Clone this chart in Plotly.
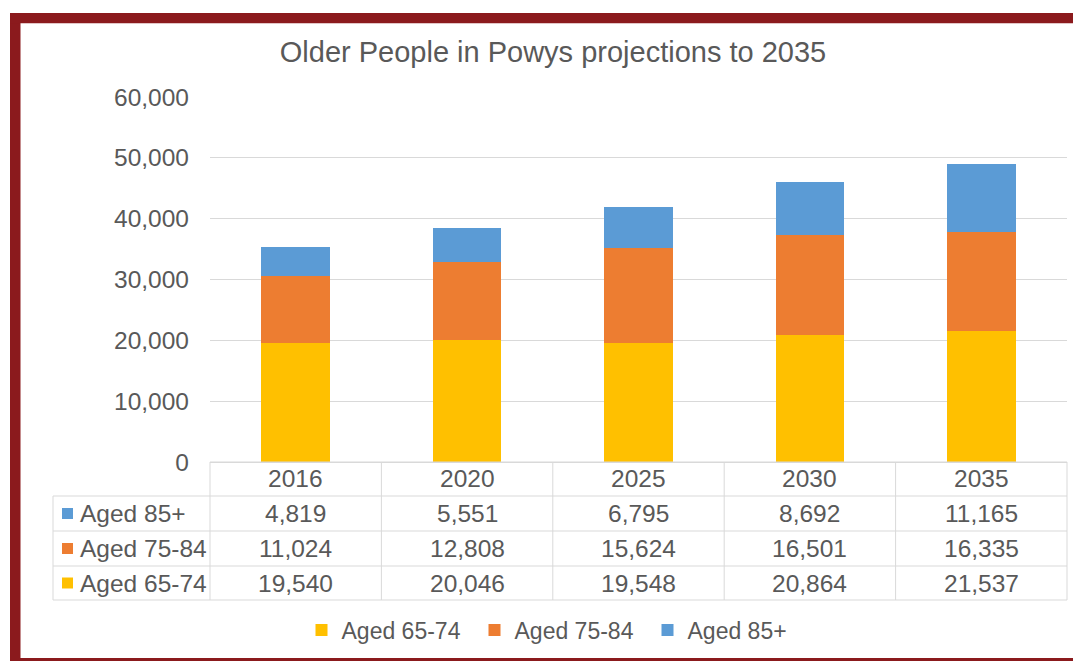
import plotly.graph_objects as go

years = ["2016", "2020", "2025", "2030", "2035"]
aged_65_74 = [19540, 20046, 19548, 20864, 21537]
aged_75_84 = [11024, 12808, 15624, 16501, 16335]
aged_85_plus = [4819, 5551, 6795, 8692, 11165]

series_names = ["Aged 65-74", "Aged 75-84", "Aged 85+"]
series_values = [aged_65_74, aged_75_84, aged_85_plus]
series_colors = ["#FFC000", "#ED7D31", "#5B9BD5"]

title_text = "Older People in Powys projections to 2035"

# the page body adds an 8px margin, so the figure is drawn 8px in from the window corner
OFF = 8
WIN_W, WIN_H = 1081, 661
W, H = WIN_W - OFF, WIN_H - OFF
PL, PR, PT, PB = 210, 1067, 97, 462  # plot area in window pixels
FONT = "Liberation Sans, Arial, sans-serif"
TXT = "#595959"
GRID = "#D9D9D9"
BORDER = "#8B1A1D"


def px_x(p):
    return (p - PL) / (PR - PL)


def px_y(p):
    return (PB - p) / (PB - PT)


fig = go.Figure()
for name, vals, col in zip(series_names, series_values, series_colors):
    fig.add_trace(go.Bar(x=years, y=vals, name=name, marker=dict(color=col, line=dict(width=0)),
                         hoverinfo="skip"))

shapes = []
annotations = []

# table geometry
row_edges = [462, 496, 531, 566, 600]
label_left = 53
table_rows = list(reversed(list(zip(series_names, series_values, series_colors))))  # 85+, 75-84, 65-74
line = dict(color=GRID, width=1)

# horizontal lines
shapes.append(dict(type="line", xref="paper", yref="paper", x0=0, x1=1,
                   y0=px_y(row_edges[0]), y1=px_y(row_edges[0]), line=line, layer="above"))
for r in row_edges[1:]:
    shapes.append(dict(type="line", xref="paper", yref="paper", x0=px_x(label_left), x1=1,
                       y0=px_y(r), y1=px_y(r), line=line))
# vertical lines
shapes.append(dict(type="line", xref="paper", yref="paper", x0=px_x(label_left), x1=px_x(label_left),
                   y0=px_y(row_edges[1]), y1=px_y(row_edges[-1]), line=line))
for xp in (0, 1):
    shapes.append(dict(type="line", xref="paper", yref="paper", x0=xp, x1=xp,
                       y0=px_y(row_edges[0]), y1=px_y(row_edges[-1]), line=line))
for i in range(1, len(years)):
    shapes.append(dict(type="line", xref="x", yref="paper", x0=i - 0.5, x1=i - 0.5,
                       y0=px_y(row_edges[0]), y1=px_y(row_edges[-1]), line=line))

tfont = dict(family=FONT, size=24.5, color=TXT)
# header (years)
hc = (row_edges[0] + row_edges[1]) / 2
for i, yr in enumerate(years):
    annotations.append(dict(xref="x", yref="paper", x=i, y=px_y(hc), text=yr, showarrow=False,
                            xanchor="center", yanchor="middle", font=tfont))
# rows
for k, (name, vals, col) in enumerate(table_rows):
    rc = (row_edges[k + 1] + row_edges[k + 2]) / 2
    shapes.append(dict(type="rect", xref="paper", yref="paper", xsizemode="pixel", ysizemode="pixel",
                       xanchor=px_x(62), yanchor=px_y(rc), x0=0, x1=11, y0=-5.5, y1=5.5,
                       fillcolor=col, line=dict(width=0)))
    annotations.append(dict(xref="paper", yref="paper", x=px_x(78), y=px_y(rc), text=name,
                            showarrow=False, xanchor="left", yanchor="middle", font=tfont))
    for i, v in enumerate(vals):
        annotations.append(dict(xref="x", yref="paper", x=i, y=px_y(rc), text=f"{v:,}",
                                showarrow=False, xanchor="center", yanchor="middle", font=tfont))

# dark red frame
bfill = dict(fillcolor=BORDER, line=dict(width=0), layer="above")
shapes.append(dict(type="rect", xref="paper", yref="paper", x0=px_x(10), x1=px_x(20.5),
                   y0=px_y(13), y1=px_y(670), **bfill))
shapes.append(dict(type="rect", xref="paper", yref="paper", x0=px_x(10), x1=px_x(1090),
                   y0=px_y(13), y1=px_y(23.3), **bfill))
shapes.append(dict(type="rect", xref="paper", yref="paper", x0=px_x(10), x1=px_x(1090),
                   y0=px_y(658), y1=px_y(670), **bfill))

fig.update_layout(
    width=W, height=H,
    margin=dict(l=PL - OFF, r=WIN_W - PR, t=PT - OFF, b=WIN_H - PB, pad=0, autoexpand=False),
    paper_bgcolor="white", plot_bgcolor="white",
    barmode="stack", bargap=0.6,
    font=dict(family=FONT, color=TXT),
    title=dict(text=title_text, x=(553 - OFF) / W, xanchor="center", y=1 - (52 - OFF) / H,
               yanchor="middle", xref="container", yref="container",
               font=dict(family=FONT, size=29, color=TXT)),
    xaxis=dict(type="category", showticklabels=False, ticks="", showgrid=False, showline=False,
               zeroline=False, range=[-0.5, len(years) - 0.5]),
    yaxis=dict(range=[0, 60000], dtick=10000, tickformat=",d", showgrid=True, gridcolor=GRID,
               gridwidth=1, zeroline=True, zerolinecolor=GRID, zerolinewidth=1, showline=False,
               ticks="", ticklabelstandoff=20, tickfont=dict(family=FONT, size=24.5, color=TXT)),
    legend=dict(orientation="h", x=px_x(561), xanchor="center", y=px_y(630), yanchor="middle",
                traceorder="normal", font=dict(family=FONT, size=23, color=TXT),
                entrywidth=128, bgcolor="rgba(0,0,0,0)"),
    shapes=shapes, annotations=annotations,
    showlegend=True,
)

fig.write_html("out.html")
